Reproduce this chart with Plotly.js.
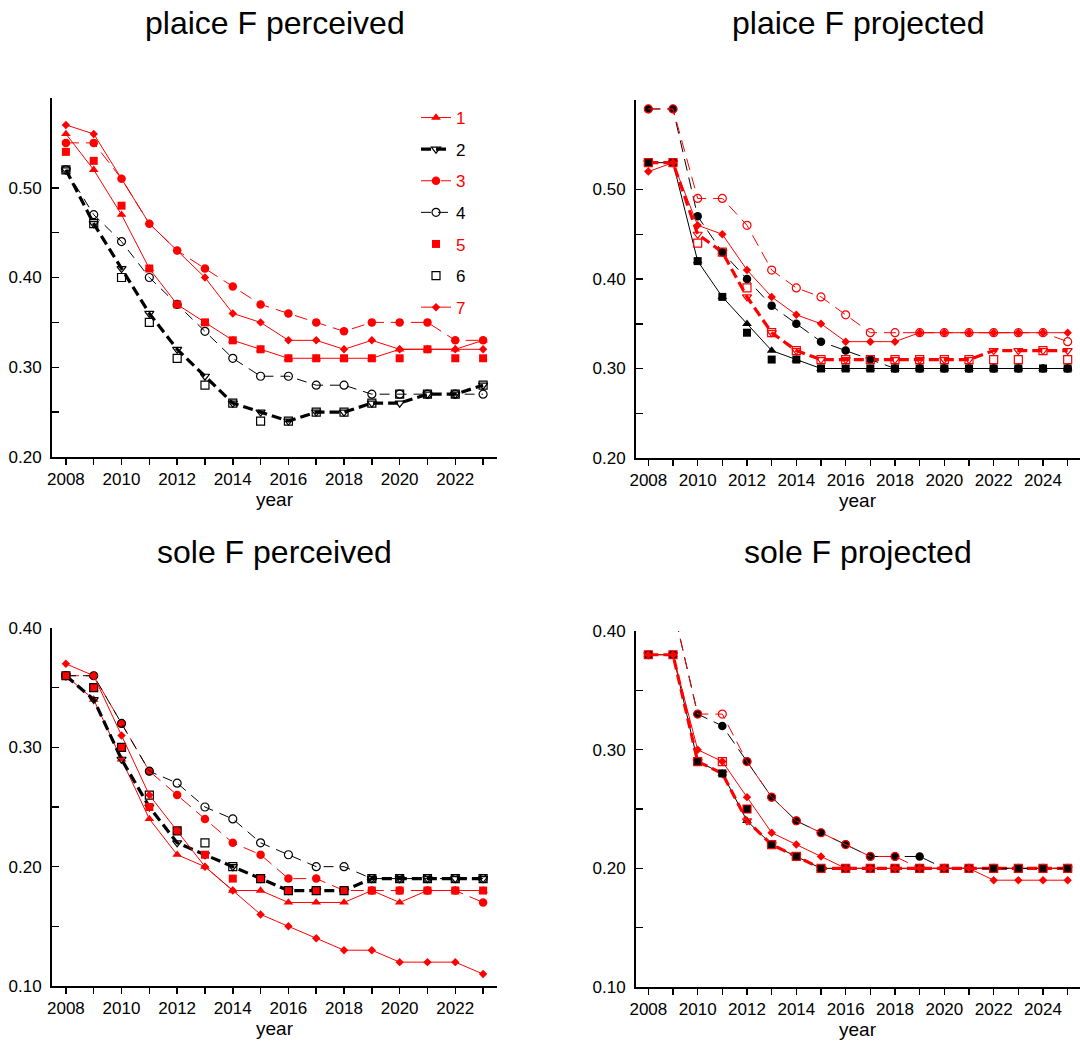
<!DOCTYPE html>
<html>
<head>
<meta charset="utf-8">
<script src="https://cdn.plot.ly/plotly-3.0.1.min.js"></script>
<style>
html,body{margin:0;padding:0;background:#ffffff;}
#chart{width:1080px;height:1041px;}
</style>
</head>
<body>
<div id="chart"></div>
<script>
// ---------------- data ----------------
const yearsPerceived = [2008,2009,2010,2011,2012,2013,2014,2015,2016,2017,2018,2019,2020,2021,2022,2023];
const yearsProjected = [2008,2009,2010,2011,2012,2013,2014,2015,2016,2017,2018,2019,2020,2021,2022,2023,2024,2025];
const yearLabelsPerceived = ['2008','','2010','','2012','','2014','','2016','','2018','','2020','','2022',''];
const yearLabelsProjected = ['2008','','2010','','2012','','2014','','2016','','2018','','2020','','2022','','2024',''];
const seriesNames = ['1','2','3','4','5','6','7'];

const panelTitles = ['plaice F perceived','plaice F projected','sole F perceived','sole F projected'];
const xAxisTitle = 'year';

const plaiceTicks = [0.2,0.3,0.4,0.5];
const plaiceMinorTicks = [0.25,0.35,0.45];
const soleTicks = [0.1,0.2,0.3,0.4];
const soleMinorTicks = [0.15,0.25,0.35];

// plaice F perceived (2008-2023)
const plaicePerceived1 = [0.56,0.52,0.47,0.41,0.37,0.35,0.33,0.32,0.31,0.31,0.31,0.31,0.32,0.32,0.32,0.33];
const plaicePerceived2 = [0.52,0.46,0.41,0.36,0.32,0.29,0.26,0.25,0.24,0.25,0.25,0.26,0.26,0.27,0.27,0.28];
const plaicePerceived3 = [0.55,0.55,0.51,0.46,0.43,0.41,0.39,0.37,0.36,0.35,0.34,0.35,0.35,0.35,0.33,0.33];
const plaicePerceived4 = [0.52,0.47,0.44,0.40,0.37,0.34,0.31,0.29,0.29,0.28,0.28,0.27,0.27,0.27,0.27,0.27];
const plaicePerceived5 = [0.54,0.53,0.48,0.41,0.37,0.35,0.33,0.32,0.31,0.31,0.31,0.31,0.31,0.32,0.31,0.31];
const plaicePerceived6 = [0.52,0.46,0.40,0.35,0.31,0.28,0.26,0.24,0.24,0.25,0.25,0.26,0.27,0.27,0.27,0.28];
const plaicePerceived7 = [0.57,0.56,0.51,0.46,0.43,0.40,0.36,0.35,0.33,0.33,0.32,0.33,0.32,0.32,0.32,0.32];

// plaice F projected (2008-2025)
const plaiceProjected1 = [0.53,0.53,0.42,0.38,0.35,0.32,0.31,0.30,0.30,0.30,0.30,0.30,0.30,0.30,0.30,0.30,0.30,0.30];
const plaiceProjected2 = [0.53,0.53,0.45,0.43,0.38,0.34,0.32,0.31,0.31,0.31,0.31,0.31,0.31,0.31,0.32,0.32,0.32,0.32];
const plaiceProjected3 = [0.59,0.59,0.47,0.43,0.40,0.37,0.35,0.33,0.32,0.31,0.30,0.30,0.30,0.30,0.30,0.30,0.30,0.30];
const plaiceProjected4 = [0.59,0.59,0.49,0.49,0.46,0.41,0.39,0.38,0.36,0.34,0.34,0.34,0.34,0.34,0.34,0.34,0.34,0.33];
const plaiceProjected5 = [0.53,0.53,0.42,0.38,0.34,0.31,0.31,0.30,0.30,0.30,0.30,0.30,0.30,0.30,0.30,0.30,0.30,0.30];
const plaiceProjected6 = [0.53,0.53,0.44,0.43,0.39,0.34,0.32,0.31,0.31,0.31,0.31,0.31,0.31,0.31,0.31,0.31,0.32,0.31];
const plaiceProjected7 = [0.52,0.53,0.46,0.45,0.41,0.38,0.36,0.35,0.33,0.33,0.33,0.34,0.34,0.34,0.34,0.34,0.34,0.34];

// sole F perceived (2008-2023)
const solePerceived1 = [0.36,0.34,0.29,0.24,0.21,0.20,0.18,0.18,0.17,0.17,0.17,0.18,0.17,0.18,0.18,0.18];
const solePerceived2 = [0.36,0.34,0.29,0.25,0.22,0.21,0.20,0.19,0.18,0.18,0.18,0.19,0.19,0.19,0.19,0.19];
const solePerceived3 = [0.36,0.36,0.32,0.28,0.26,0.24,0.22,0.21,0.19,0.19,0.18,0.18,0.18,0.18,0.18,0.17];
const solePerceived4 = [0.36,0.36,0.32,0.28,0.27,0.25,0.24,0.22,0.21,0.20,0.20,0.19,0.19,0.19,0.19,0.19];
const solePerceived5 = [0.36,0.35,0.30,0.25,0.23,0.21,0.19,0.19,0.18,0.18,0.18,0.18,0.18,0.18,0.18,0.18];
const solePerceived6 = [0.36,0.35,0.30,0.26,0.23,0.22,0.20,0.19,0.18,0.18,0.18,0.19,0.19,0.19,0.19,0.19];
const solePerceived7 = [0.37,0.36,0.31,0.26,0.23,0.20,0.18,0.16,0.15,0.14,0.13,0.13,0.12,0.12,0.12,0.11];

// sole F projected (2008-2025)
const soleProjected1 = [0.38,0.38,0.29,0.28,0.24,0.22,0.21,0.20,0.20,0.20,0.20,0.20,0.20,0.20,0.20,0.20,0.20,0.20];
const soleProjected2 = [0.38,0.38,0.29,0.28,0.24,0.22,0.21,0.20,0.20,0.20,0.20,0.20,0.20,0.20,0.20,0.20,0.20,0.20];
const soleProjected3 = [0.42,0.42,0.33,0.32,0.29,0.26,0.24,0.23,0.22,0.21,0.21,0.21,0.20,0.20,0.20,0.20,0.20,0.20];
const soleProjected4 = [0.42,0.42,0.33,0.33,0.29,0.26,0.24,0.23,0.22,0.21,0.21,0.20,0.20,0.20,0.20,0.20,0.20,0.20];
const soleProjected5 = [0.38,0.38,0.29,0.28,0.25,0.22,0.21,0.20,0.20,0.20,0.20,0.20,0.20,0.20,0.20,0.20,0.20,0.20];
const soleProjected6 = [0.38,0.38,0.29,0.29,0.25,0.22,0.21,0.20,0.20,0.20,0.20,0.20,0.20,0.20,0.20,0.20,0.20,0.20];
const soleProjected7 = [0.38,0.38,0.30,0.29,0.26,0.23,0.22,0.21,0.20,0.20,0.20,0.20,0.20,0.20,0.19,0.19,0.19,0.19];

// ---------------- styles ----------------
const RED = '#ff0000', BLACK = '#000000';
const FONT = 'Liberation Sans, Arial, Helvetica, sans-serif';
const perceivedStyles = [
  {color:RED,   mode:'lines+markers', width:1, dash:'solid',      symbol:'triangle-up',        size:8.5},
  {color:BLACK, mode:'lines+markers', width:3.2, dash:'10px,5px', symbol:'triangle-down-open', size:8},
  {color:RED,   mode:'lines+markers', width:1, dash:'13px,7px',   symbol:'circle',             size:8.5},
  {color:BLACK, mode:'lines+markers', width:1, dash:'10px,7px',   symbol:'circle-open',        size:8},
  {color:RED,   mode:'markers',       width:1, dash:'solid',      symbol:'square',             size:8},
  {color:BLACK, mode:'markers',       width:1, dash:'solid',      symbol:'square-open',        size:8},
  {color:RED,   mode:'lines+markers', width:1, dash:'solid',      symbol:'diamond',            size:6.5}
];
const projectedStyles = [
  {color:BLACK, mode:'lines+markers', width:1, dash:'solid',      symbol:'triangle-up',        size:8.5},
  {color:RED,   mode:'lines+markers', width:3.2, dash:'10px,5px', symbol:'triangle-down-open', size:8},
  {color:BLACK, mode:'lines+markers', width:1, dash:'12px,7px',   symbol:'circle',             size:8.5},
  {color:RED,   mode:'lines+markers', width:1, dash:'12px,7px',   symbol:'circle-open',        size:8},
  {color:BLACK, mode:'markers',       width:1, dash:'solid',      symbol:'square',             size:8},
  {color:RED,   mode:'markers',       width:1, dash:'solid',      symbol:'square-open',        size:8},
  {color:RED,   mode:'lines+markers', width:1, dash:'solid',      symbol:'diamond',            size:6.5}
];

const panels = [
  {years:yearsPerceived, series:[plaicePerceived1,plaicePerceived2,plaicePerceived3,plaicePerceived4,plaicePerceived5,plaicePerceived6,plaicePerceived7], styles:perceivedStyles, xa:'x',  ya:'y',  legend:true},
  {years:yearsProjected, series:[plaiceProjected1,plaiceProjected2,plaiceProjected3,plaiceProjected4,plaiceProjected5,plaiceProjected6,plaiceProjected7], styles:projectedStyles, xa:'x2', ya:'y2', legend:false},
  {years:yearsPerceived, series:[solePerceived1,solePerceived2,solePerceived3,solePerceived4,solePerceived5,solePerceived6,solePerceived7], styles:perceivedStyles, xa:'x3', ya:'y3', legend:false},
  {years:yearsProjected, series:[soleProjected1,soleProjected2,soleProjected3,soleProjected4,soleProjected5,soleProjected6,soleProjected7], styles:projectedStyles, xa:'x4', ya:'y4', legend:false}
];

const traces = [];
panels.forEach(p => {
  p.series.forEach((vals, i) => {
    const s = p.styles[i];
    const open = s.symbol.indexOf('open') >= 0;
    traces.push({
      type:'scatter',
      x:p.years, y:vals,
      xaxis:p.xa, yaxis:p.ya,
      mode:s.mode,
      name:'<span style="color:' + s.color + '">' + seriesNames[i] + '</span>',
      legendgroup:'g' + i,
      showlegend:p.legend,
      line:{color:s.color, width:s.width, dash:s.dash},
      marker:{symbol:s.symbol, size:s.size, color:s.color,
              line:{color:s.color, width:open ? 1.2 : 0}},
      hoverinfo:'x+y'
    });
  });
});

// ---------------- layout ----------------
const W = 1080, H = 1041;
const px = v => v / W;
const py = v => 1 - v / H;

function xAxis(domainPx, range, years, labels, anchor) {
  return {
    domain:[px(domainPx[0]), px(domainPx[1])], range:range, anchor:anchor,
    tickmode:'array', tickvals:years, ticktext:labels,
    ticks:'outside', ticklen:6, tickwidth:1.5, tickcolor:BLACK,
    showline:true, linewidth:2, linecolor:BLACK,
    showgrid:false, zeroline:false,
    tickfont:{family:FONT, size:17, color:BLACK},
    ticklabelstandoff:0
  };
}
function xOverlay(base, anchor, range, years) {
  return {
    overlaying:base, anchor:anchor, range:range,
    tickmode:'array', tickvals:years, ticks:'inside', ticklen:6, tickwidth:1.5, tickcolor:BLACK,
    showticklabels:false, showline:false, showgrid:false, zeroline:false
  };
}
function yAxis(domainPx, range, ticks, minorTicks, anchor) {
  return {
    domain:[py(domainPx[1]), py(domainPx[0])], range:range, anchor:anchor,
    tickmode:'array', tickvals:ticks, tickformat:'.2f',
    ticks:'inside', ticklen:7, tickwidth:1.5, tickcolor:BLACK,
    minor:{tickmode:'array', tickvals:minorTicks, ticks:'inside', ticklen:7, tickwidth:1.5, tickcolor:BLACK, showgrid:false},
    showline:true, linewidth:2, linecolor:BLACK,
    showgrid:false, zeroline:false,
    tickfont:{family:FONT, size:17, color:BLACK},
    ticklabelstandoff:5
  };
}

const leftX = [52, 497], rightX = [636, 1080];
const rangePerceived = [2007.5, 2023.5], rangeProjected = [2007.5, 2025.5];

function titleAnn(text, xref, yPx) {
  return {text:text, xref:xref, x:0.5, yref:'paper', y:py(yPx), xanchor:'center', yanchor:'middle',
          showarrow:false, font:{family:FONT, size:32, color:BLACK}};
}
function yearAnn(xref, yPx) {
  return {text:xAxisTitle, xref:xref, x:0.5, yref:'paper', y:py(yPx), xanchor:'center', yanchor:'middle',
          showarrow:false, font:{family:FONT, size:19, color:BLACK}};
}

const layout = {
  width:W, height:H,
  margin:{l:0, r:0, t:0, b:0},
  paper_bgcolor:'#ffffff', plot_bgcolor:'rgba(0,0,0,0)',
  font:{family:FONT, color:BLACK},
  showlegend:true,
  legend:{x:px(416), y:py(100), xanchor:'left', yanchor:'top',
          bgcolor:'rgba(0,0,0,0)', borderwidth:0,
          font:{family:FONT, size:17, color:BLACK},
          traceorder:'grouped', tracegroupgap:6.5, itemwidth:30},
  xaxis: xAxis(leftX,  rangePerceived, yearsPerceived, yearLabelsPerceived, 'y'),
  yaxis: yAxis([98, 457],  [0.2, 0.6], plaiceTicks, plaiceMinorTicks, 'x'),
  xaxis2:xAxis(rightX, rangeProjected, yearsProjected, yearLabelsProjected, 'y2'),
  yaxis2:yAxis([100, 458], [0.2, 0.6], plaiceTicks, plaiceMinorTicks, 'x2'),
  xaxis3:xAxis(leftX,  rangePerceived, yearsPerceived, yearLabelsPerceived, 'y3'),
  yaxis3:yAxis([628, 986], [0.1, 0.4], soleTicks, soleMinorTicks, 'x3'),
  xaxis4:xAxis(rightX, rangeProjected, yearsProjected, yearLabelsProjected, 'y4'),
  yaxis4:yAxis([631, 987], [0.1, 0.4], soleTicks, soleMinorTicks, 'x4'),
  xaxis5:xOverlay('x',  'y',  rangePerceived, yearsPerceived),
  xaxis6:xOverlay('x2', 'y2', rangeProjected, yearsProjected),
  xaxis7:xOverlay('x3', 'y3', rangePerceived, yearsPerceived),
  xaxis8:xOverlay('x4', 'y4', rangeProjected, yearsProjected),
  annotations:[
    titleAnn(panelTitles[0], 'x domain', 23),
    titleAnn(panelTitles[1], 'x2 domain', 23),
    titleAnn(panelTitles[2], 'x3 domain', 552),
    titleAnn(panelTitles[3], 'x4 domain', 552),
    yearAnn('x domain', 499),
    yearAnn('x2 domain', 500),
    yearAnn('x3 domain', 1028),
    yearAnn('x4 domain', 1029)
  ]
};

Plotly.newPlot('chart', traces, layout, {displayModeBar:false, staticPlot:true});
</script>
</body>
</html>
